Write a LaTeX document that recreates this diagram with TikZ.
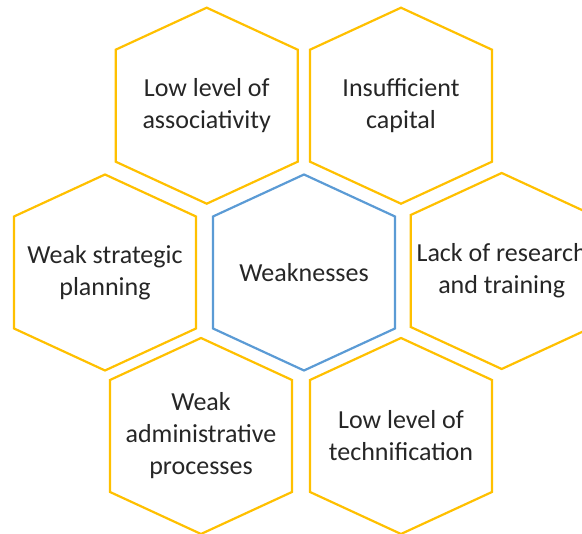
\documentclass[tikz,border=0pt]{standalone}
\usepackage{fontspec}
\setmainfont{Carlito}
\usepackage{tikz}
\usetikzlibrary{positioning, calc}

\definecolor{hexgold}{HTML}{FFC000}
\definecolor{hexblue}{HTML}{5B9BD5}

% hexagon round a named node: #1 node, #2 line colour
\newcommand{\hexof}[2]{%
  \draw[hexline, #2] ([shift={(0,-98)}]#1.center) -- ++(91,42) -- ++(0,112)
    -- ++(-91,42) -- ++(-91,-42) -- ++(0,-112) -- cycle;}

\begin{document}
\begin{tikzpicture}[
      x=1pt, y=-1pt,
      hexline/.style = {
        line width=2.2pt,
        line join=miter
      },
      cell/.style = {
        inner sep=0pt,
        align=center,
        text=black!85,
        font=\fontsize{26}{32}\selectfont
      }
    ]

    \useasboundingbox (0,0) rectangle (582,534);
    \clip (0,0) rectangle (582,534);

    \node[cell] (assoc)    at (206.7,105.7) {Low level of\\associativity};
    \node[cell] (capital)  at (401,105.7)   {Insufficient\\capital};
    \node[cell] (planning) at (105,272.5)   {Weak strategic\\planning};
    \node[cell] (weak)     at (304,272.5)   {Weaknesses};
    \node[cell] (research) at (501.7,271)   {Lack of research\\and training};
    \node[cell] (admin)    at (201,436)     {Weak\\administrative\\processes};
    \node[cell] (techn)    at (401,436)     {Low level of\\technification};

    \hexof{assoc}{hexgold}
    \hexof{capital}{hexgold}
    \hexof{planning}{hexgold}
    \hexof{weak}{hexblue}
    \hexof{research}{hexgold}
    \hexof{admin}{hexgold}
    \hexof{techn}{hexgold}

  \end{tikzpicture}
\end{document}
